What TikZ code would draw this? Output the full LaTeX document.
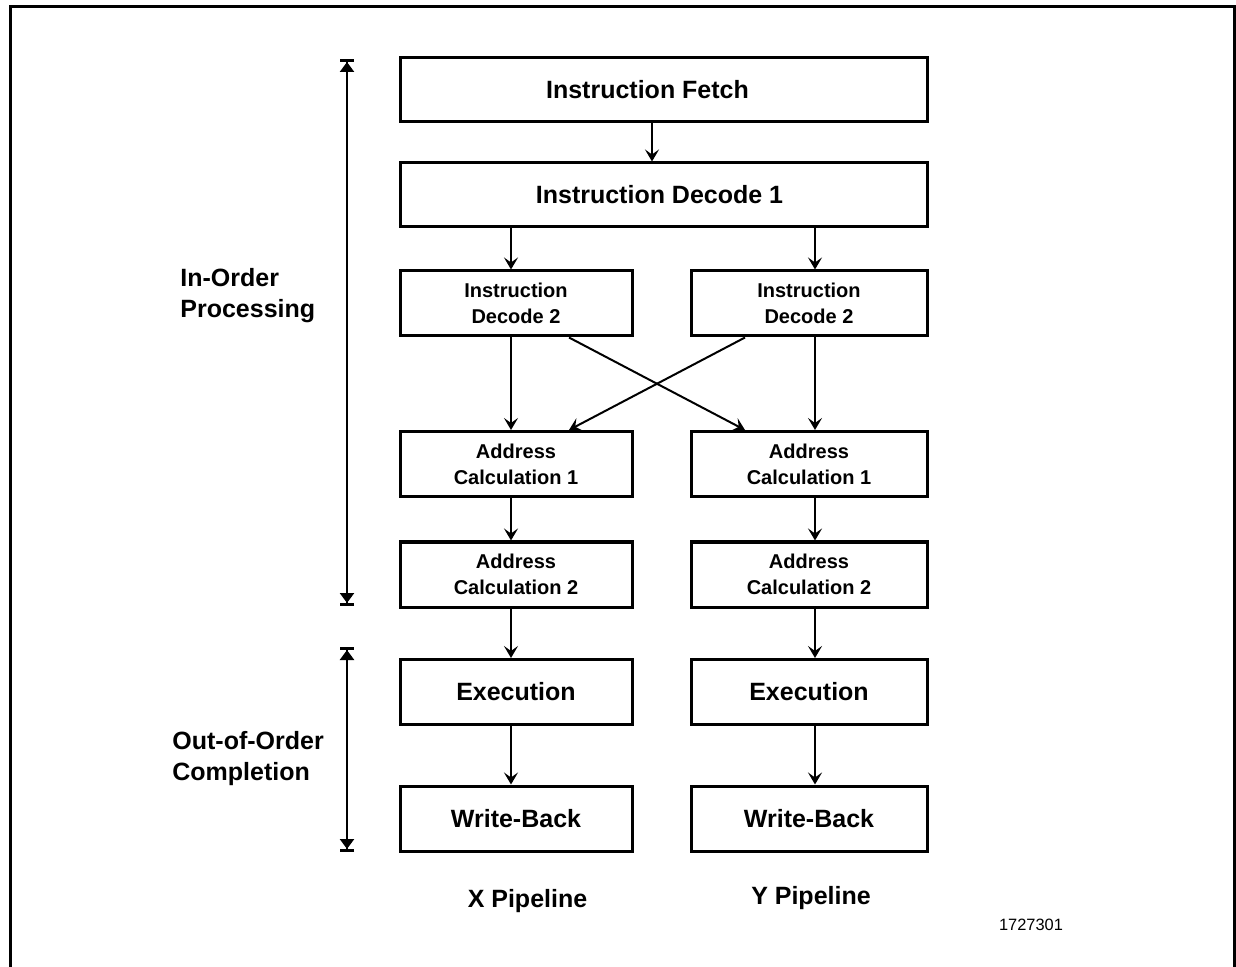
\documentclass[tikz,border=0pt]{standalone}
\usepackage{fontspec}
\setmainfont{Liberation Sans}
\usetikzlibrary{arrows.meta}

\begin{document}
\begin{tikzpicture}[x=0.5pt,y=-0.5pt,
    stage/.style={draw,line width=1.5pt,inner sep=0pt,align=center,font=\bfseries\fontsize{12.5}{15}\selectfont},
    wide/.style={stage,minimum width=263.5pt,minimum height=32pt},
    small/.style={stage,minimum width=116pt,minimum height=32.5pt,font=\bfseries\fontsize{10}{13}\selectfont},
    flow/.style={line width=1pt,-{Stealth[length=6pt,width=7pt,inset=2.5pt]}},
    span/.style={line width=1.2pt,{Bar[width=7pt,line width=1.5pt,sep=0pt]Triangle[length=5pt,width=7pt]}-{Triangle[length=5pt,width=7pt]Bar[width=7pt,line width=1.5pt,sep=0pt]}},
    side/.style={align=left,anchor=west,inner sep=0pt,font=\bfseries\fontsize{12.5}{15.5}\selectfont}]
    \useasboundingbox (0,0) rectangle (1236,967);

    % Frame
    \draw[line width=1.5pt] (10,967) -- (10,7) -- (1234.5,7) -- (1234.5,967);

    % Shared stages
    \node[wide] (fetch) at (663.5,90) {\hspace*{-16pt}Instruction Fetch};
    \node[wide] (decode) at (663.5,195) {\hspace*{-4pt}Instruction Decode 1};

    % X pipeline
    \node[small] (decX) at (516,303.5) {Instruction\\Decode 2};
    \node[small] (addrXa) at (516,464) {Address\\Calculation 1};
    \node[small] (addrXb) at (516,574.5) {Address\\Calculation 2};
    \node[small] (execX) at (516,692) {\fontsize{12.5}{15}\selectfont Execution};
    \node[small] (wbX) at (516,818.5) {\fontsize{12.5}{15}\selectfont Write-Back};

    % Y pipeline
    \node[small,minimum width=118pt] (decY) at (809,303.5) {Instruction\\Decode 2};
    \node[small,minimum width=118pt] (addrYa) at (809,464) {Address\\Calculation 1};
    \node[small,minimum width=118pt] (addrYb) at (809,574.5) {Address\\Calculation 2};
    \node[small,minimum width=118pt] (execY) at (809,692) {\fontsize{12.5}{15}\selectfont Execution};
    \node[small,minimum width=118pt] (wbY) at (809,818.5) {\fontsize{12.5}{15}\selectfont Write-Back};

    % Arrow columns
    \coordinate (xm) at (652,0);
    \coordinate (xl) at (511,0);
    \coordinate (xr) at (815,0);
    \coordinate (cl) at (569,0);
    \coordinate (cr) at (745,0);

    % Connectors
    \draw[flow] (fetch.south -| xm) -- (decode.north -| xm);
    \draw[flow] (decode.south -| xl) -- (decX.north -| xl);
    \draw[flow] (decode.south -| xr) -- (decY.north -| xr);
    \foreach \a/\b in {decX/addrXa,addrXa/addrXb,addrXb/execX,execX/wbX}
        \draw[flow] (\a.south -| xl) -- (\b.north -| xl);
    \foreach \a/\b in {decY/addrYa,addrYa/addrYb,addrYb/execY,execY/wbY}
        \draw[flow] (\a.south -| xr) -- (\b.north -| xr);
    \draw[flow] (decX.south -| cl) -- (addrYa.north -| cr);
    \draw[flow] (decY.south -| cr) -- (addrXa.north -| cl);

    % Spans on the left
    \coordinate (sa) at (347,59);
    \coordinate (sb) at (347,606);
    \coordinate (sc) at (347,647);
    \coordinate (sd) at (347,852);
    \draw[span] (sa) -- (sb);
    \draw[span] (sc) -- (sd);
    \node[side] (inorder) at (180,295.5) {In-Order\\Processing};
    \node[side] (ooo) at (172,759) {Out-of-Order\\Completion};

    % Labels
    \node[font=\bfseries\fontsize{12.5}{15}\selectfont] (xpipe) at (527.5,901) {X Pipeline};
    \node[font=\bfseries\fontsize{12.5}{15}\selectfont] (ypipe) at (811,898) {Y Pipeline};
    \node[font=\fontsize{8.2}{10}\selectfont] (fignum) at (1031,925) {1727301};
\end{tikzpicture}
\end{document}
